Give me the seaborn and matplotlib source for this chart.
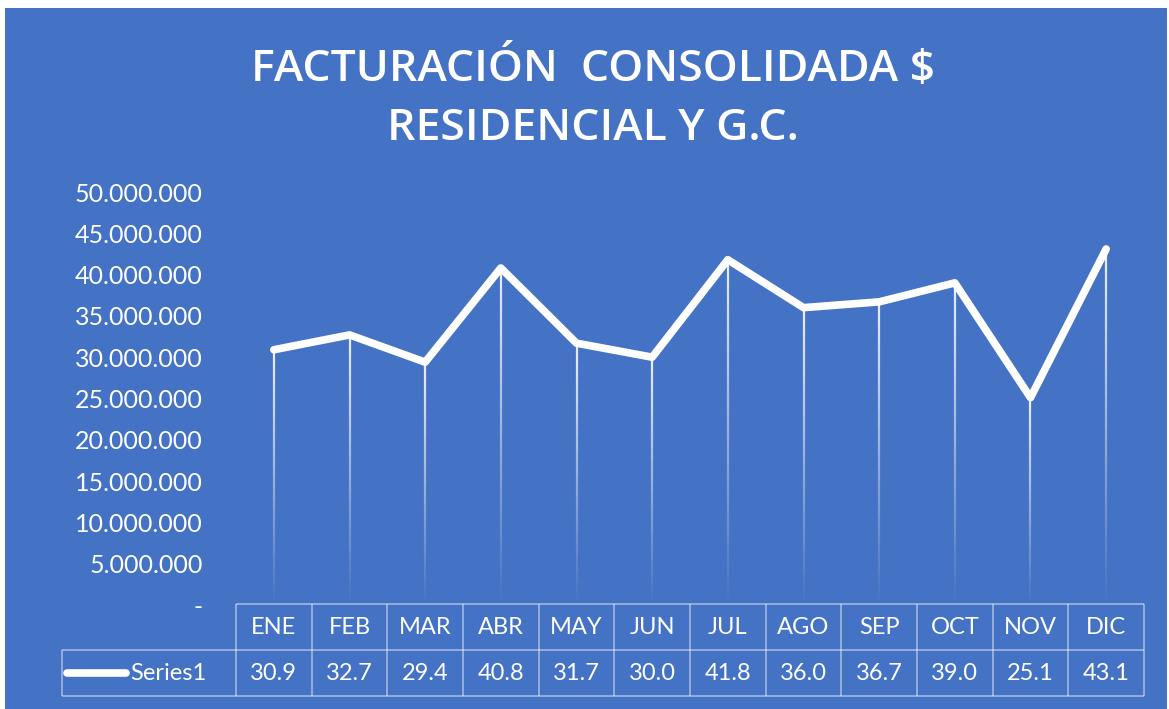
import numpy as np
import matplotlib
matplotlib.use("Agg")
import matplotlib.pyplot as plt
from matplotlib.collections import LineCollection
from matplotlib.transforms import blended_transform_factory
from matplotlib.ticker import FuncFormatter
import seaborn as sns

# ---- data ----
months = ["ENE", "FEB", "MAR", "ABR", "MAY", "JUN", "JUL", "AGO", "SEP", "OCT", "NOV", "DIC"]
values_m = [30.9, 32.7, 29.4, 40.8, 31.7, 30.0, 41.8, 36.0, 36.7, 39.0, 25.1, 43.1]
series_name = "Series1"
title_lines = ["FACTURACIÓN  CONSOLIDADA $", "RESIDENCIAL Y G.C."]
y_ticks = [0, 5e6, 10e6, 15e6, 20e6, 25e6, 30e6, 35e6, 40e6, 45e6, 50e6]

values = [v * 1e6 for v in values_m]
idx = list(range(len(months)))

sns.set_theme(style="white")
plt.rcParams["font.family"] = ["Lato", "DejaVu Sans"]

BG = "#4472C4"
W, H = 1169, 709
fig = plt.figure(figsize=(W / 100, H / 100), dpi=100, facecolor="white")
# blue chart background (white margin at top/left like the screenshot)
fig.patches.append(plt.Rectangle((5 / W, 0), 1 - 5 / W - 2 / W, 1 - 8 / H,
                                 transform=fig.transFigure, facecolor=BG,
                                 edgecolor="none", zorder=-10))

ax = fig.add_axes([236 / W, 1 - 605 / H, (1144 - 236) / W, (605 - 192) / H])
ax.set_facecolor("none")

# gradient drop lines
segs, cols = [], []
N = 60
for i, v in zip(idx, values):
    for k in range(N):
        y0 = v * k / N
        y1 = v * (k + 1) / N
        segs.append([(i, y0), (i, y1)])
        a = 0.9 * ((k + 0.5) / N) ** 1.0
        cols.append((1, 1, 1, a))
ax.add_collection(LineCollection(segs, colors=cols, linewidths=1.6, zorder=2))

sns.lineplot(x=idx, y=values, ax=ax, color="white", linewidth=5.5, zorder=3,
             solid_joinstyle="round", solid_capstyle="round")

ax.set_xlim(-0.5, len(months) - 0.5)
ax.set_ylim(0, 50e6)
ax.set_yticks(y_ticks)


def fmt(v, p):
    if v == 0:
        return "-"
    return f"{int(v):,}".replace(",", ".")


ax.yaxis.set_major_formatter(FuncFormatter(fmt))
ax.tick_params(axis="y", colors="white", labelsize=18, length=0, pad=24)
ax.set_xticks([])
for s in ax.spines.values():
    s.set_visible(False)
ax.set_xlabel("")
ax.set_ylabel("")

# ---- data table ----
tr = blended_transform_factory(ax.transData, ax.transAxes)
axh = 605 - 192
ytop = 1 / axh
ymid = -45 / axh
ybot = -91 / axh
xleft = (62 - 236) / ((1144 - 236) / 12) - 0.5
edge = (1, 1, 1, 0.45)
lw = 1.3
n = len(months)
lines = []
lines.append([(-0.5, ytop), (n - 0.5, ytop)])
lines.append([(xleft, ymid), (n - 0.5, ymid)])
lines.append([(xleft, ybot), (n - 0.5, ybot)])
lines.append([(xleft, ymid), (xleft, ybot)])
for j in range(n + 1):
    lines.append([(j - 0.5, ytop), (j - 0.5, ybot)])
lc = LineCollection(lines, colors=[edge], linewidths=lw, transform=tr, clip_on=False)
ax.add_collection(lc)

for i, (m, v) in enumerate(zip(months, values_m)):
    ax.text(i, (ytop + ymid) / 2, m, transform=tr, ha="center", va="center",
            color="white", fontsize=17, clip_on=False)
    ax.text(i, (ymid + ybot) / 2, f"{v:.1f}", transform=tr, ha="center", va="center",
            color="white", fontsize=17, clip_on=False)

# legend key in table
ym = (ymid + ybot) / 2
x_px = (1144 - 236) / 12
ax.plot([xleft + 5 / x_px, xleft + 64 / x_px], [ym, ym], transform=tr, color="white",
        linewidth=5.5, solid_capstyle="round", clip_on=False)
ax.text(xleft + 68 / x_px, ym, series_name, transform=tr, ha="left", va="center",
        color="white", fontsize=17, clip_on=False)

# title
fig.text(593 / W, 1 - 81 / H, title_lines[0], ha="center", va="baseline",
         color="white", fontsize=32, fontweight="semibold", family=["Open Sans", "DejaVu Sans"])
fig.text(593 / W, 1 - 140 / H, title_lines[1], ha="center", va="baseline",
         color="white", fontsize=32, fontweight="semibold", family=["Open Sans", "DejaVu Sans"])

fig.savefig("out.png", dpi=100, facecolor="white")
